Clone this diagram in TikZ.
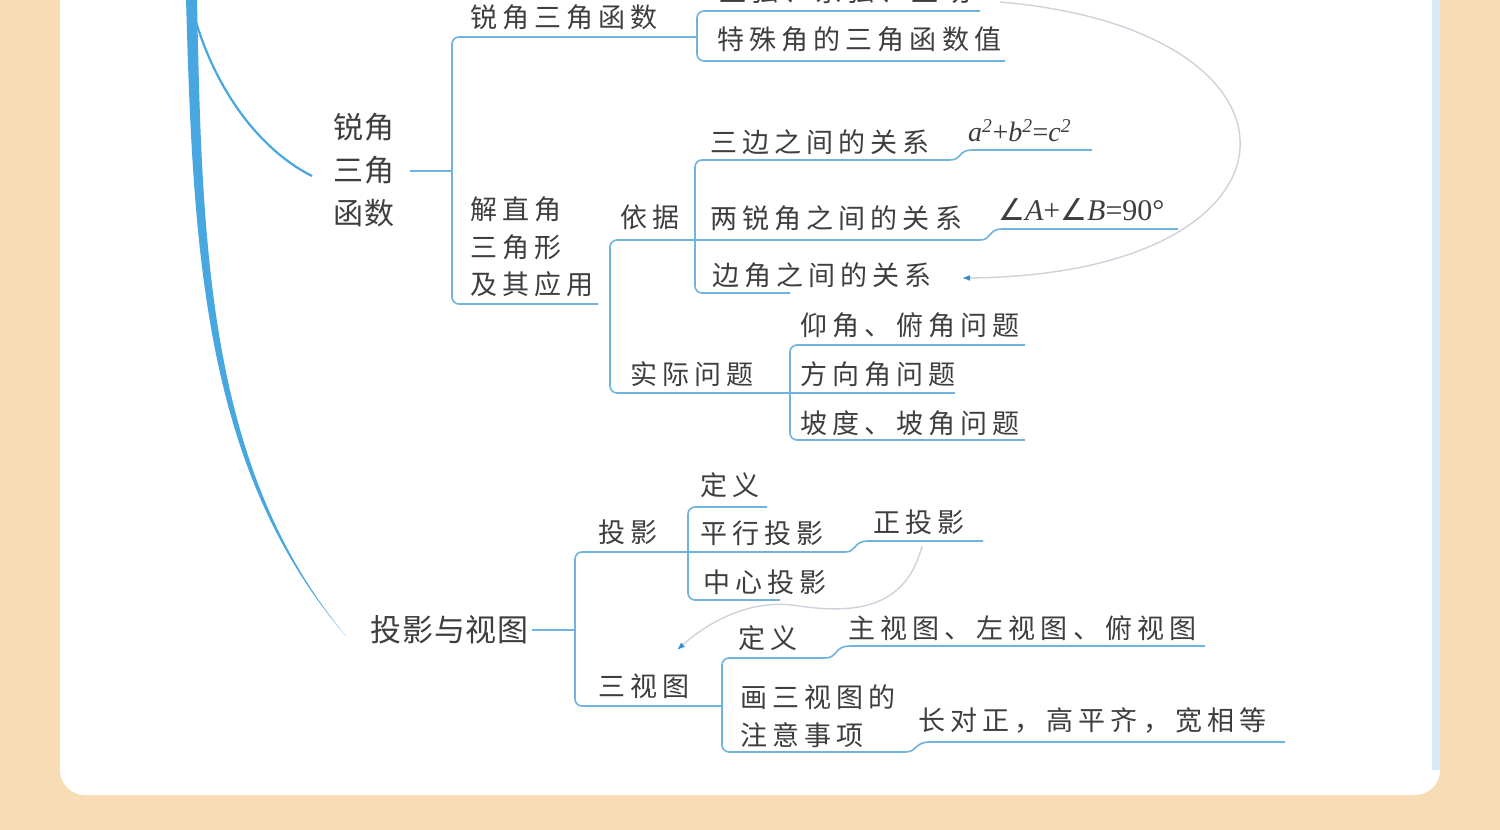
\documentclass[tikz,border=0pt]{standalone}
\usepackage{fontspec}
\usetikzlibrary{arrows.meta}
\newfontfamily\cjk[LetterSpace=19]{Noto Sans CJK SC}
\newfontfamily\cjkm[LetterSpace=3]{Noto Sans CJK SC}
\newfontfamily\tms{Liberation Serif}
\newfontfamily\djv{DejaVu Sans}
\definecolor{peach}{HTML}{F8DCB6}
\definecolor{lb}{HTML}{6FB3DE}
\definecolor{trunkc}{HTML}{48A6E0}
\definecolor{strip}{HTML}{D6E9F6}
\definecolor{gr}{HTML}{CDD3DA}
\definecolor{txt}{HTML}{3E3E3E}
\definecolor{ab}{HTML}{3A8BD0}
\newcommand\su[1]{\textsuperscript{#1}}
\begin{document}
\begin{tikzpicture}[x=1pt,y=-1pt,
 ln/.style={draw=lb,line width=1.6pt,rounded corners=7pt},
 cv/.style={draw=lb,line width=1.6pt},
 gcurve/.style={draw=gr,line width=1.4pt},
 tx/.style={anchor=west,inner sep=0pt,text=txt,font={\cjk\fontsize{27}{37.5}\selectfont}},
 txm/.style={anchor=west,inner sep=0pt,text=txt,align=left,font={\cjkm\fontsize{30}{43}\selectfont}},
 mth/.style={anchor=west,inner sep=0pt,text=txt,font={\tms\fontsize{28}{30}\selectfont}}]
\useasboundingbox (0,0) rectangle (1500,830);
\fill[peach] (0,0) rectangle (1500,830);
\fill[white, rounded corners=25pt] (60,-40) rectangle (1440,795);
\fill[strip] (1432,-5) rectangle (1440,770);

% trunk
\fill[trunkc] (186,-2) .. controls (193,250) and (203,470) .. (346,636)
  .. controls (208,470) and (202,250) .. (197,-2) -- cycle;
\draw[trunkc,line width=2.2pt] (194,15) .. controls (215,90) and (260,150) .. (312,176);

% nodes
\node[tx] (top0) at (719,-9) {正弦、余弦、正切};
\node[tx] (rj) at (470,17) {锐角三角函数};
\node[tx] (ts) at (717,39) {特殊角的三角函数值};
\node[txm] (rjn) at (333,170) {锐角\\三角\\函数};
\node[tx,align=left] (jz) at (470,247) {解直角\\三角形\\及其应用};
\node[tx] (yj) at (620,217) {依据};
\node[tx] (sb) at (710,142) {三边之间的关系};
\node[mth] (abc) at (968,131) {\itshape a\su{2}\upshape+\itshape b\su{2}\upshape=\itshape c\su{2}};
\node[tx] (ly) at (710,218) {两锐角之间的关系};
\node[mth,font={\tms\fontsize{30}{32}\selectfont}] (ang) at (998,210) {{\djv∠}\itshape A\upshape+{\djv∠}\itshape B\upshape=90°};
\node[tx] (bj) at (712,275) {边角之间的关系};
\node[tx] (sj) at (630,374) {实际问题};
\node[tx] (yang) at (800,325) {仰角、俯角问题};
\node[tx] (fx) at (800,374) {方向角问题};
\node[tx] (pd) at (800,423) {坡度、坡角问题};
\node[txm,font={\cjkm\fontsize{31}{40}\selectfont}] (tyst) at (370,630) {投影与视图};
\node[tx] (ty) at (598,532) {投影};
\node[tx] (dy1) at (700,485) {定义};
\node[tx] (px) at (700,533) {平行投影};
\node[tx] (zx) at (703,582) {中心投影};
\node[tx] (zty) at (873,522) {正投影};
\node[tx] (sst) at (598,686) {三视图};
\node[tx] (dy2) at (738,638) {定义};
\node[tx] (zsd) at (848,628) {主视图、左视图、俯视图};
\node[tx,align=left] (hs) at (740,716) {画三视图的\\注意事项};
\node[tx] (cdz) at (918,720) {长对正，高平齐，宽相等};

% upper part
\draw[cv] (410,171) -- (452,171);
\draw[ln] (697,37) -- (452,37) -- (452,304) -- (598,304);
\draw[ln] (980,11) -- (697,11) -- (697,61) -- (1005,61);
\draw[ln] (980,240) -- (610,240) -- (610,393) -- (955,393);
\draw[cv] (980,240) .. controls (992,240) and (988,229) .. (1002,229) -- (1178,229);
\draw[ln] (950,160) -- (695,160) -- (695,293) -- (790,293);
\draw[cv] (950,160) .. controls (962,160) and (958,150) .. (972,150) -- (1092,150);
\draw[ln] (1025,345) -- (790,345) -- (790,440) -- (1025,440);

% lower part
\draw[cv] (532,630) -- (575,630);
\draw[ln] (845,552) -- (575,552) -- (575,706) -- (722,706);
\draw[cv] (845,552) .. controls (857,552) and (853,541) .. (868,541) -- (983,541);
\draw[ln] (767,507) -- (688,507) -- (688,600) -- (780,600);
\draw[ln] (825,658) -- (722,658) -- (722,752) -- (905,752);
\draw[cv] (825,658) .. controls (838,658) and (834,646) .. (850,646) -- (1205,646);
\draw[cv] (905,752) .. controls (918,752) and (914,742) .. (930,742) -- (1285,742);

% gray arrows
\draw[gcurve,-{Latex[length=8pt,width=6pt,color=ab]}] (1000,2) .. controls (1330,30) and (1320,275) .. (962,278);
\draw[gcurve,-{Latex[length=8pt,width=6pt,color=ab]}] (922,546) .. controls (905,612) and (850,614) .. (792,605)
  .. controls (745,600) and (705,625) .. (677,650);
\end{tikzpicture}
\end{document}
